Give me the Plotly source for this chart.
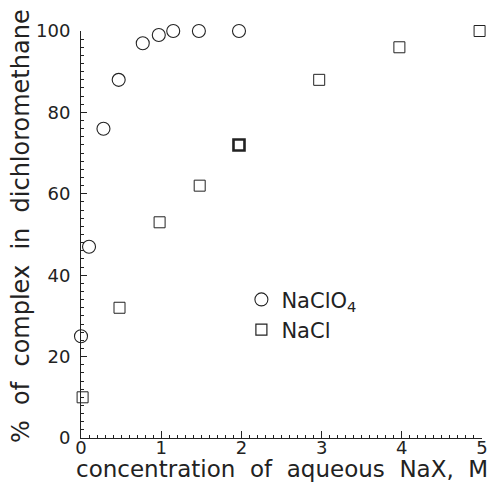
import plotly.graph_objects as go

# NaClO4 series (circles)
naclo4_x = [0.0, 0.1, 0.28, 0.47, 0.77, 0.97, 1.15, 1.47, 1.97]
naclo4_y = [25, 47, 76, 88, 97, 99, 100, 100, 100]

# NaCl series (squares)
nacl_x = [0.02, 0.48, 0.98, 1.48, 1.97, 2.97, 3.97, 4.97]
nacl_y = [10, 32, 53, 62, 72, 88, 96, 100]
nacl_linew = [1, 1, 1, 1, 2.6, 1, 1, 1]

x_ticks = [0, 1, 2, 3, 4, 5]
y_ticks = [0, 20, 40, 60, 80, 100]

FONT = "DejaVu Sans"
INK = "#222222"
SPX = "\u00a0\u00a0"
SPY = "\u00a0\u00a0"

fig = go.Figure()
fig.add_trace(go.Scatter(
    x=naclo4_x, y=naclo4_y, mode="markers", name="NaClO<sub>4</sub>",
    marker=dict(symbol="circle-open", size=13, color=INK, line=dict(width=1.1, color=INK)),
    cliponaxis=False,
))
fig.add_trace(go.Scatter(
    x=nacl_x, y=nacl_y, mode="markers", name="NaCl",
    marker=dict(symbol="square-open", size=11, color=INK, line=dict(width=nacl_linew, color=INK)),
    cliponaxis=False,
))

fig.update_layout(
    width=493, height=474,
    margin=dict(l=73, r=19, t=20, b=44),
    paper_bgcolor="white", plot_bgcolor="white",
    font=dict(family=FONT, color=INK, size=18),
    showlegend=True,
    legend=dict(x=0.40, y=0.39, xanchor="left", yanchor="top",
                bgcolor="rgba(0,0,0,0)", font=dict(size=21, color=INK),
                tracegroupgap=0),
    xaxis=dict(range=[0, 5], tickvals=x_ticks, ticktext=[str(v) for v in x_ticks],
               showline=True, linecolor=INK, linewidth=1, mirror=False,
               ticks="inside", ticklen=7, tickcolor=INK, tickwidth=1,
               minor=dict(ticks="inside", dtick=0.1, ticklen=3, tickcolor=INK),
               showgrid=False, zeroline=False, ticklabelstandoff=-7,
               tickfont=dict(size=18, color=INK)),
    yaxis=dict(range=[0, 100], tickvals=y_ticks, ticktext=[str(v) for v in y_ticks],
               showline=True, linecolor=INK, linewidth=1, mirror=False,
               ticks="inside", ticklen=6, tickcolor=INK, tickwidth=1,
               minor=dict(ticks="inside", dtick=2, ticklen=3, tickcolor=INK),
               showgrid=False, zeroline=False, ticklabelstandoff=6,
               tickfont=dict(size=18, color=INK)),
    annotations=[
        dict(text=SPX.join(["concentration", "of", "aqueous", "NaX,", "M"]),
             xref="paper", yref="paper",
             x=0.5, y=-0.0756, xanchor="center", yanchor="middle", showarrow=False,
             font=dict(size=23, color=INK, family=FONT)),
        dict(text=SPY.join(["%", "of", "complex", "in", "dichloromethane"]),
             xref="paper", yref="paper",
             x=-0.148, y=0.52, xanchor="center", yanchor="middle", showarrow=False,
             textangle=-90, font=dict(size=24, color=INK, family=FONT)),
    ],
)

fig.write_html("out.html")
